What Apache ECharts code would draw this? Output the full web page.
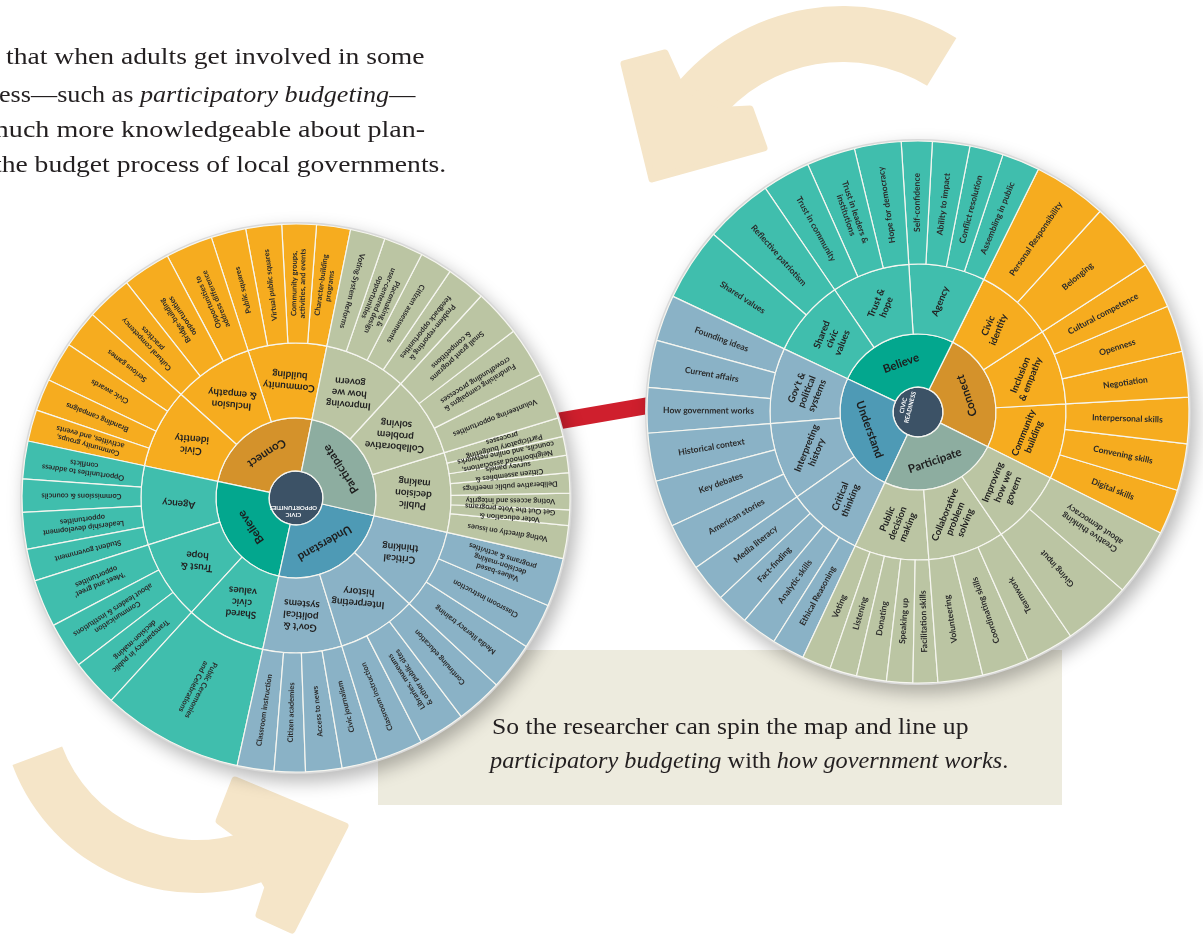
<!DOCTYPE html>
<html>
<head>
<meta charset="utf-8">
<style>
  html, body { margin: 0; padding: 0; background: #fff; }
  #chart { width: 1203px; height: 936px; }
</style>
<script src="https://cdn.jsdelivr.net/npm/echarts@6/dist/echarts.min.js"></script>
</head>
<body>
<div id="chart"></div>
<script>
// ── categories & groups (counter-clockwise order, same in both wheels) ──
const categories = ['Connect', 'Believe', 'Understand', 'Participate'];
const groupNames = [
  ['Community\nbuilding', 'Inclusion\n& empathy', 'Civic\nidentity'],
  ['Agency', 'Trust &\nhope', 'Shared\ncivic\nvalues'],
  ["Gov't &\npolitical\nsystems", 'Interpreting\nhistory', 'Critical\nthinking'],
  ['Public\ndecision\nmaking', 'Collaborative\nproblem\nsolving', 'Improving\nhow we\ngovern']
];

// ── right wheel: civic readiness (leaf names + arc spans in degrees) ──
const readinessLeaves = [
  [['Digital skills', 'Convening skills', 'Interpersonal skills'],
   ['Negotiation', 'Openness', 'Cultural competence'],
   ['Belonging', 'Personal Responsibility']],
  [['Assembling in public', 'Conflict resolution', 'Ability to impact', 'Self-confidence'],
   ['Hope for democracy', 'Trust in leaders &\ninstitutions', 'Trust in community'],
   ['Reflective patriotism', 'Shared values']],
  [['Founding ideas', 'Current affairs', 'How government works'],
   ['Historical context', 'Key debates', 'American stories'],
   ['Media literacy', 'Fact-finding', 'Analytic skills', 'Ethical Reasoning']],
  [['Voting', 'Listening', 'Donating', 'Speaking up', 'Facilitation skills'],
   ['Volunteering', 'Coordinating skills', 'Teamwork'],
   ['Giving input', 'Creative thinking\nabout democracy']]
];
const readinessSpans = [
  [[9.7, 10, 9.9], [9.8, 10, 9.9], [14.9, 15.8]],
  [[8.1, 7.2, 8, 6.6], [10, 10.4, 10.3], [14.7, 15.7]],
  [[9.9, 10.1, 9.7], [10.3, 10, 10.2], [8.2, 7, 7.6, 7]],
  [[6.2, 5.8, 6.4, 5.6, 5.3], [9.6, 10.1, 10.3], [14.7, 14.5]]
];

// ── left wheel: civic opportunities ──
const opportunityLeaves = [
  [['Character-building\nprograms', 'Community groups,\nactivities, and events', 'Virtual public squares', 'Public squares'],
   ['Opportunities to\naddress difference', 'Bridge-building\nopportunities', 'Cultural competency\npractices'],
   ['Serious games', 'Civic awards', 'Branding campaigns', 'Community groups,\nactivities, and events']],
  [['Opportunities to address\nconflicts', 'Commissions & councils', 'Leadership development\nopportunities', 'Student government'],
   ["'Meet and greet'\nopportunities", 'Communication\nabout leaders & institutions', 'Transparency in public\ndecision-making'],
   ['Public Ceremonies\nand Celebrations']],
  [['Classroom instruction', 'Citizen academies', 'Access to news', 'Civic journalism'],
   ['Classroom instruction', 'Libraries, museums\n& other public sites', 'Continuing education'],
   ['Media literacy training', 'Classroom instruction', 'Values-based\ndecision-making\nprograms & activities']],
  [['Voting directly on issues', 'Voter education &\nGet Out the Vote programs', 'Voting access and integrity',
    'Deliberative public meetings', 'Citizen assemblies &\nsurvey panels',
    'Neighborhood associations,\ncouncils, and online networks', 'Participatory budgeting\nprocesses'],
   ['Volunteering opportunities', 'Fundraising campaigns &\ncrowdfunding processes', 'Small grant programs\n& competitions'],
   ['Problem-reporting &\nfeedback opportunities', 'Citizen assessments', 'Placemaking &\nuser-centered design\nopportunities', 'Voting System Reforms']]
];
const opportunitySpans = [
  [[7.2, 7.3, 7.6, 7.4], [10, 10.2, 9.8], [8, 8.5, 6.8, 6.7]],
  [[8, 7, 7.8, 6.8], [10.1, 9.8, 10.1], [30]],
  [[7.8, 6.6, 7.7, 7.5], [10, 9.9, 9.9], [10.2, 9.7, 10.3]],
  [[7, 3.3, 3.5, 4.3, 3.7, 4, 4], [9.8, 10.7, 10], [8.3, 6.9, 8.4, 7.4]]
];

// ── colours ──
const catInner = ['#D4922B', '#03A78E', '#4E9AB5', '#8DADA0'];
const catOuter = ['#F6AC1F', '#40BEAD', '#8AB2C6', '#BBC5A3'];
const hubColor = '#3C5266';
const arrowColor = '#F5E5C8';
const FONT = 'Lato, "Noto Sans", sans-serif';

const wrap180 = a => ((a % 360) + 540) % 360 - 180;

// 叶子标签：在 outBand 范围内朝外读，其余朝内读
function leafRot(mid, band) {
  const m = ((mid - band[0]) % 360 + 360) % 360;
  return wrap180(m <= band[1] - band[0] ? mid : mid + 180);
}

function buildWheel(cfg) {
  let total = 0;
  cfg.spans.forEach(c => c.forEach(g => g.forEach(v => { total += v; })));
  const k = 360 / total;
  let cum = 0;
  const cats = categories.map((cat, ci) => {
    const groups = groupNames[ci].map((g, gi) => {
      const kids = cfg.leaves[ci][gi].map((name, li) => {
        const v = cfg.spans[ci][gi][li];
        const mid = cfg.start + (cum + v / 2) * k;
        cum += v;
        return { name, value: v, itemStyle: { color: catOuter[ci] },
                 label: { rotate: leafRot(mid, cfg.outBand) } };
      });
      return { name: g, children: kids, itemStyle: { color: catOuter[ci] },
               label: { rotate: cfg.midRot } };
    });
    return { name: cat, children: groups, itemStyle: { color: catInner[ci] },
             label: { rotate: cfg.innerRot[ci] } };
  });
  return [{ name: cfg.title, children: cats, itemStyle: { color: hubColor },
            label: { rotate: cfg.hubRot } }];
}

function sunburst(cfg) {
  const R = cfg.radii;
  return {
    type: 'sunburst',
    center: cfg.center,
    radius: [0, R[3]],
    startAngle: cfg.start,
    clockwise: false,
    sort: null,
    nodeClick: false,
    emphasis: { disabled: true },
    itemStyle: { borderColor: '#f6f6f0', borderWidth: 1.2 },
    label: { fontFamily: FONT, color: '#262626' },
    data: buildWheel(cfg),
    levels: [
      {},
      { r0: 0, r: R[0], itemStyle: { borderWidth: 1.5, borderColor: '#fff' },
        label: { color: '#fff', fontSize: 6, fontWeight: 'bold', lineHeight: 7 } },
      { r0: R[0], r: R[1], label: { fontSize: 11.5, fontWeight: 'bold', color: '#1d1d1d' } },
      { r0: R[1], r: R[2], label: { fontSize: cfg.midFont, fontWeight: 'bold', lineHeight: cfg.midFont + 1.5, color: '#222' } },
      { r0: R[2], r: R[3], label: { fontSize: cfg.leafFont, fontWeight: 'bold', lineHeight: cfg.leafFont + 1, color: '#2a2a2a' } }
    ]
  };
}

const rightWheel = {
  title: 'CIVIC\nREADINESS', leaves: readinessLeaves, spans: readinessSpans,
  center: [918, 412], radii: [25, 78, 148, 271], start: -26.5,
  hubRot: 76, innerRot: [109, 20, -70, 19], midRot: 68, outBand: [-30, 104],
  midFont: 9.5, leafFont: 8.5
};
const leftWheel = {
  title: 'CIVIC\nOPPORTUNITIES', leaves: opportunityLeaves, spans: opportunitySpans,
  center: [296, 498], radii: [27, 80, 155, 274], start: 78.5,
  hubRot: 180, innerRot: [213, 124, 210, 123], midRot: 175, outBand: [78, 258],
  midFont: 10, leafFont: 7.5
};

const rad = d => d * Math.PI / 180;
const serif = '"Liberation Serif", "DejaVu Serif", serif';
// Garamond 比 Liberation Serif 宽，用 scaleX 拉宽
function textEl(x, y, text, size, sx, rich) {
  return {
    type: 'text', x, y, z: 20, scaleX: sx, scaleY: 1,
    style: {
      text, fontFamily: serif, fontSize: size, fill: '#231f20',
      textVerticalAlign: 'middle', verticalAlign: 'middle',
      rich: rich ? {
        n: { fontFamily: serif, fontSize: size, fill: '#231f20' },
        i: { fontFamily: serif, fontSize: size, fill: '#231f20', fontStyle: 'italic' }
      } : undefined
    }
  };
}
function rimEl(w) {
  return {
    type: 'circle', z: 1,
    shape: { cx: w.center[0], cy: w.center[1], r: w.radii[3] + 2 },
    style: { fill: '#d9d9d9', shadowBlur: 18, shadowOffsetX: 5, shadowOffsetY: 8,
             shadowColor: 'rgba(0,0,0,0.28)' }
  };
}

const chart = echarts.init(document.getElementById('chart'), null, { renderer: 'canvas' });
chart.setOption({
  animation: false,
  backgroundColor: '#ffffff',
  graphic: { elements: [
    // 说明框
    { type: 'rect', z: 0, shape: { x: 378, y: 650, width: 684, height: 155 },
      style: { fill: '#EDEBDE' } },
    // 上方箭头
    { type: 'sector', z: 0,
      shape: { cx: 843, cy: 223, r0: 161, r: 217, startAngle: rad(-141), endAngle: rad(-58.5), clockwise: true },
      style: { fill: arrowColor } },
    { type: 'polygon', z: 0,
      shape: { points: [[624, 64], [665, 53], [680, 86], [730, 110], [750, 109], [764, 148], [652, 179]] },
      style: { fill: arrowColor, stroke: arrowColor, lineWidth: 7, lineJoin: 'round' } },
    // 左下箭头
    { type: 'sector', z: 0,
      shape: { cx: 197, cy: 696, r0: 144, r: 197, startAngle: rad(66), endAngle: rad(159.5), clockwise: true },
      style: { fill: arrowColor } },
    { type: 'polygon', z: 0,
      shape: { points: [[235, 780], [345, 826], [292, 930], [259, 915], [268, 887], [238, 835], [219, 821]] },
      style: { fill: arrowColor, stroke: arrowColor, lineWidth: 7, lineJoin: 'round' } },
    // 红色连接条
    { type: 'polygon', z: 1,
      shape: { points: [[550, 414], [660, 395], [660, 412], [550, 431]] },
      style: { fill: '#CF1F2D' } },
    rimEl(leftWheel),
    rimEl(rightWheel),
    // 文字
    textEl(6, 58, 'that when adults get involved in some', 24, 1.15),
    textEl(-1, 96, '{n|ess—such as }{i|participatory budgeting}{n|—}', 24, 1.09, true),
    textEl(-13, 131, 'much more knowledgeable about plan-', 24, 1.17),
    textEl(-6, 166, 'the budget process of local governments.', 24, 1.15),
    textEl(492, 728, 'So the researcher can spin the map and line up', 22.5, 1.14),
    textEl(490, 762, '{i|participatory budgeting}{n| with }{i|how government works}{n|.}', 22.5, 1.08, true)
  ] },
  series: [sunburst(leftWheel), sunburst(rightWheel)]
});
</script>
</body>
</html>
